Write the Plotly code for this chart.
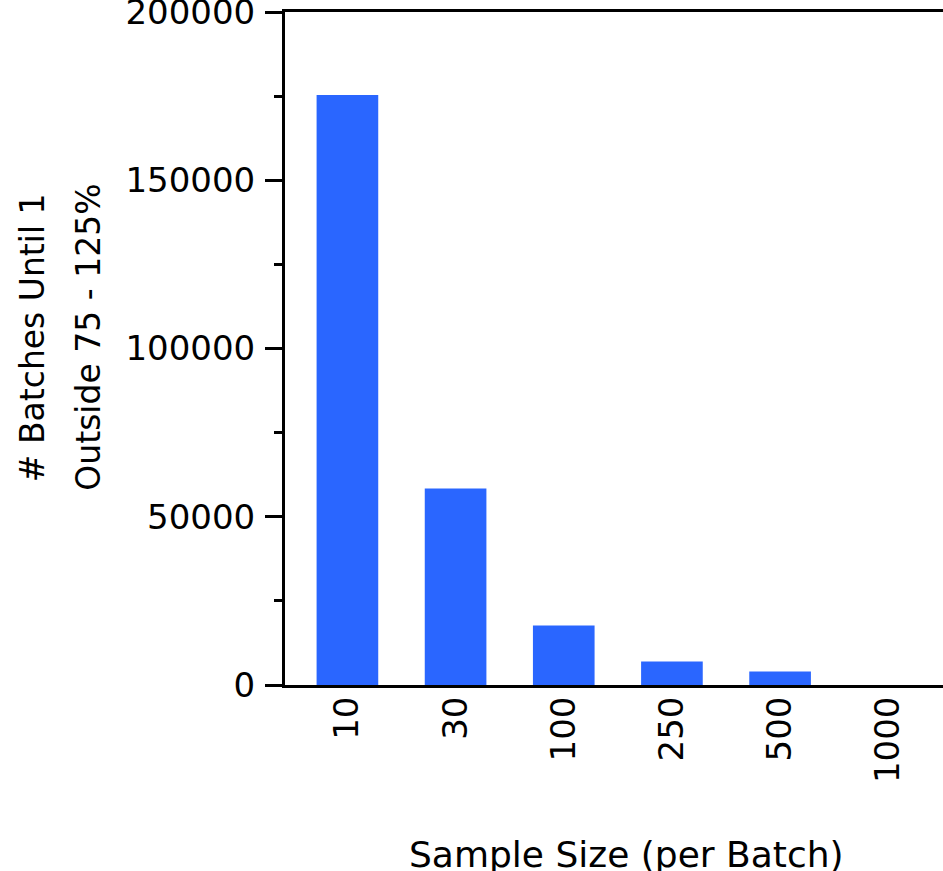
import plotly.graph_objects as go

categories = ["10", "30", "100", "250", "500", "1000"]
batches = [175300, 58400, 17700, 7000, 4000, 0]
y_tick_vals = [0, 50000, 100000, 150000, 200000]
y_tick_text = ["0", "50000", "100000", "150000", "200000"]

W, H = 943, 871
L, R, T, B = 284.5, 0, 11.5, 871 - 685.5
pw = W - L - R
ph = H - T - B

fig = go.Figure()
fig.add_trace(go.Bar(
    x=list(range(len(categories))), y=batches,
    marker=dict(color="#2a66ff", line=dict(width=0)),
    width=0.57,
))

def px_x(px):
    return (px - L) / pw

def px_y(py):
    return (H - B - py) / ph

fig.update_layout(
    width=W, height=H,
    margin=dict(l=L, r=R, t=T, b=B, pad=0, autoexpand=False),
    paper_bgcolor="white", plot_bgcolor="white",
    showlegend=False,
    font=dict(family="DejaVu Sans", size=34, color="black"),
    xaxis=dict(
        tickmode="array", tickvals=list(range(len(categories))), ticktext=categories,
        range=[-0.577, 5.506],
        tickangle=-90, automargin=False,
        showline=True, linecolor="black", linewidth=3, mirror=True,
        ticks="", showgrid=False, zeroline=False,
        ticklabelstandoff=-5,
        tickfont=dict(family="DejaVu Sans", size=34),
    ),
    yaxis=dict(
        range=[0, 200000], automargin=False,
        tickmode="array", tickvals=y_tick_vals, ticktext=y_tick_text,
        showline=True, linecolor="black", linewidth=3,
        ticks="outside", ticklen=17, tickwidth=3, tickcolor="black",
        minor=dict(ticks="outside", ticklen=8, tickwidth=3, tickcolor="black", dtick=25000, showgrid=False),
        showgrid=False, zeroline=False,
        ticklabelstandoff=3, ticklabeloverflow="allow",
        tickfont=dict(family="DejaVu Sans", size=34),
    ),
    annotations=[
        dict(text="# Batches Until 1", xref="paper", yref="paper",
             x=px_x(32), y=px_y(337.5), xanchor="center", yanchor="middle",
             textangle=-90, showarrow=False,
             font=dict(family="DejaVu Sans", size=33)),
        dict(text="Outside 75 - 125%", xref="paper", yref="paper",
             x=px_x(87), y=px_y(337), xanchor="center", yanchor="middle",
             textangle=-90, showarrow=False,
             font=dict(family="DejaVu Sans", size=33)),
        dict(text="Sample Size (per Batch)", xref="paper", yref="paper",
             x=px_x(626), y=px_y(855), xanchor="center", yanchor="middle",
             showarrow=False,
             font=dict(family="DejaVu Sans", size=36)),
    ],
)

fig.write_html(
    "out.html",
    config={"displayModeBar": False},
    post_script="document.body.style.margin='0';document.documentElement.style.overflow='hidden';",
)
